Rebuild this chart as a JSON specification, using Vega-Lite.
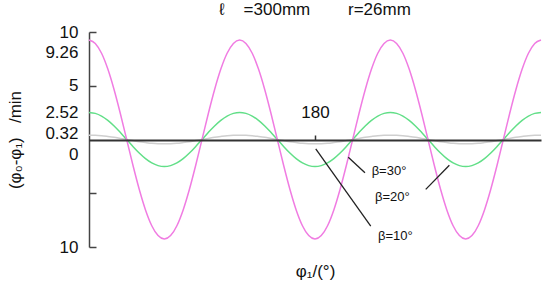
{
  "$schema": "https://vega.github.io/schema/vega-lite/v6.json",
  "width": 452,
  "height": 215,
  "autosize": {"type": "none"},
  "padding": {"left": 89, "top": 32, "right": 9, "bottom": 46},
  "background": "white",
  "config": {"view": {"stroke": null}, "font": "Liberation Sans", "axis": {"labelOverlap": false}},
  "title": {"text": "ℓ\u00a0\u00a0\u00a0 =300mm\u00a0\u00a0\u00a0\u00a0\u00a0\u00a0\u00a0 r=26mm", "fontSize": 17, "fontWeight": "normal", "color": "#111", "anchor": "middle", "offset": 4, "font": "Liberation Sans"},
  "datasets": {
    "curve": [
      {"phi": 0, "b30": 9.26, "b20": 2.52, "b10": 0.4},
      {"phi": 5, "b30": 8.94, "b20": 2.43, "b10": 0.39},
      {"phi": 10, "b30": 8.02, "b20": 2.18, "b10": 0.35},
      {"phi": 15, "b30": 6.55, "b20": 1.78, "b10": 0.28},
      {"phi": 20, "b30": 4.63, "b20": 1.26, "b10": 0.2},
      {"phi": 25, "b30": 2.4, "b20": 0.65, "b10": 0.1},
      {"phi": 30, "b30": 0, "b20": 0, "b10": 0},
      {"phi": 35, "b30": -2.4, "b20": -0.65, "b10": -0.1},
      {"phi": 40, "b30": -4.63, "b20": -1.26, "b10": -0.2},
      {"phi": 45, "b30": -6.55, "b20": -1.78, "b10": -0.28},
      {"phi": 50, "b30": -8.02, "b20": -2.18, "b10": -0.35},
      {"phi": 55, "b30": -8.94, "b20": -2.43, "b10": -0.39},
      {"phi": 60, "b30": -9.26, "b20": -2.52, "b10": -0.4},
      {"phi": 65, "b30": -8.94, "b20": -2.43, "b10": -0.39},
      {"phi": 70, "b30": -8.02, "b20": -2.18, "b10": -0.35},
      {"phi": 75, "b30": -6.55, "b20": -1.78, "b10": -0.28},
      {"phi": 80, "b30": -4.63, "b20": -1.26, "b10": -0.2},
      {"phi": 85, "b30": -2.4, "b20": -0.65, "b10": -0.1},
      {"phi": 90, "b30": 0, "b20": 0, "b10": 0},
      {"phi": 95, "b30": 2.4, "b20": 0.65, "b10": 0.1},
      {"phi": 100, "b30": 4.63, "b20": 1.26, "b10": 0.2},
      {"phi": 105, "b30": 6.55, "b20": 1.78, "b10": 0.28},
      {"phi": 110, "b30": 8.02, "b20": 2.18, "b10": 0.35},
      {"phi": 115, "b30": 8.94, "b20": 2.43, "b10": 0.39},
      {"phi": 120, "b30": 9.26, "b20": 2.52, "b10": 0.4},
      {"phi": 125, "b30": 8.94, "b20": 2.43, "b10": 0.39},
      {"phi": 130, "b30": 8.02, "b20": 2.18, "b10": 0.35},
      {"phi": 135, "b30": 6.55, "b20": 1.78, "b10": 0.28},
      {"phi": 140, "b30": 4.63, "b20": 1.26, "b10": 0.2},
      {"phi": 145, "b30": 2.4, "b20": 0.65, "b10": 0.1},
      {"phi": 150, "b30": 0, "b20": 0, "b10": 0},
      {"phi": 155, "b30": -2.4, "b20": -0.65, "b10": -0.1},
      {"phi": 160, "b30": -4.63, "b20": -1.26, "b10": -0.2},
      {"phi": 165, "b30": -6.55, "b20": -1.78, "b10": -0.28},
      {"phi": 170, "b30": -8.02, "b20": -2.18, "b10": -0.35},
      {"phi": 175, "b30": -8.94, "b20": -2.43, "b10": -0.39},
      {"phi": 180, "b30": -9.26, "b20": -2.52, "b10": -0.4},
      {"phi": 185, "b30": -8.94, "b20": -2.43, "b10": -0.39},
      {"phi": 190, "b30": -8.02, "b20": -2.18, "b10": -0.35},
      {"phi": 195, "b30": -6.55, "b20": -1.78, "b10": -0.28},
      {"phi": 200, "b30": -4.63, "b20": -1.26, "b10": -0.2},
      {"phi": 205, "b30": -2.4, "b20": -0.65, "b10": -0.1},
      {"phi": 210, "b30": 0, "b20": 0, "b10": 0},
      {"phi": 215, "b30": 2.4, "b20": 0.65, "b10": 0.1},
      {"phi": 220, "b30": 4.63, "b20": 1.26, "b10": 0.2},
      {"phi": 225, "b30": 6.55, "b20": 1.78, "b10": 0.28},
      {"phi": 230, "b30": 8.02, "b20": 2.18, "b10": 0.35},
      {"phi": 235, "b30": 8.94, "b20": 2.43, "b10": 0.39},
      {"phi": 240, "b30": 9.26, "b20": 2.52, "b10": 0.4},
      {"phi": 245, "b30": 8.94, "b20": 2.43, "b10": 0.39},
      {"phi": 250, "b30": 8.02, "b20": 2.18, "b10": 0.35},
      {"phi": 255, "b30": 6.55, "b20": 1.78, "b10": 0.28},
      {"phi": 260, "b30": 4.63, "b20": 1.26, "b10": 0.2},
      {"phi": 265, "b30": 2.4, "b20": 0.65, "b10": 0.1},
      {"phi": 270, "b30": 0, "b20": 0, "b10": 0},
      {"phi": 275, "b30": -2.4, "b20": -0.65, "b10": -0.1},
      {"phi": 280, "b30": -4.63, "b20": -1.26, "b10": -0.2},
      {"phi": 285, "b30": -6.55, "b20": -1.78, "b10": -0.28},
      {"phi": 290, "b30": -8.02, "b20": -2.18, "b10": -0.35},
      {"phi": 295, "b30": -8.94, "b20": -2.43, "b10": -0.39},
      {"phi": 300, "b30": -9.26, "b20": -2.52, "b10": -0.4},
      {"phi": 305, "b30": -8.94, "b20": -2.43, "b10": -0.39},
      {"phi": 310, "b30": -8.02, "b20": -2.18, "b10": -0.35},
      {"phi": 315, "b30": -6.55, "b20": -1.78, "b10": -0.28},
      {"phi": 320, "b30": -4.63, "b20": -1.26, "b10": -0.2},
      {"phi": 325, "b30": -2.4, "b20": -0.65, "b10": -0.1},
      {"phi": 330, "b30": 0, "b20": 0, "b10": 0},
      {"phi": 335, "b30": 2.4, "b20": 0.65, "b10": 0.1},
      {"phi": 340, "b30": 4.63, "b20": 1.26, "b10": 0.2},
      {"phi": 345, "b30": 6.55, "b20": 1.78, "b10": 0.28},
      {"phi": 350, "b30": 8.02, "b20": 2.18, "b10": 0.35},
      {"phi": 355, "b30": 8.94, "b20": 2.43, "b10": 0.39},
      {"phi": 360, "b30": 9.26, "b20": 2.52, "b10": 0.4}
    ],
    "leaders": [
      {"x1": 206.5, "y1": -1.66, "x2": 219.8, "y2": -3.09},
      {"x1": 268.2, "y1": -4.64, "x2": 287.0, "y2": -2.4},
      {"x1": 180.6, "y1": -0.88, "x2": 224.4, "y2": -8.05}
    ],
    "labels": [
      {"x": 225.1, "y": -2.9, "t": "β=30°"},
      {"x": 227.8, "y": -5.32, "t": "β=20°"},
      {"x": 230.2, "y": -8.98, "t": "β=10°"}
    ]
  },
  "resolve": {"axis": {"x": "independent", "y": "independent"}},
  "layer": [
    {
      "data": {"name": "curve"},
      "transform": [{"fold": ["b10", "b20", "b30"], "as": ["beta", "val"]}],
      "mark": {"type": "line", "interpolate": "monotone", "strokeWidth": 1.5},
      "encoding": {
        "x": {
          "field": "phi", "type": "quantitative",
          "scale": {"domain": [0, 360], "nice": false, "zero": false},
          "axis": {
            "orient": "top", "offset": -108, "values": [180], "grid": false,
            "title": null, "domainColor": "#333", "domainWidth": 2,
            "tickColor": "#333", "tickWidth": 1.5, "tickSize": 5,
            "labelFontSize": 17, "labelColor": "#111", "labelPadding": 14,
            "labelFont": "Liberation Sans", "zindex": 1
          }
        },
        "y": {
          "field": "val", "type": "quantitative",
          "scale": {"domain": [-10, 10], "nice": false, "zero": false},
          "axis": {
            "orient": "left",
            "values": [10, 5, 2.52, 0, -5, -10],
            "labelExpr": "datum.value == -5 ? '' : '' + abs(datum.value)",
            "labelOverlap": false,
            "labelFlush": false,
            "tickOpacity": {"condition": {"test": "datum.value == 10 || datum.value == 5 || datum.value == -5 || datum.value == -10", "value": 1}, "value": 0},
            "labelOffset": {"condition": {"test": "datum.value == 0", "value": 15}, "value": 0},
            "grid": false, "tickSize": -7, "labelPadding": 18,
            "domainColor": "#444", "domainWidth": 1.5, "tickColor": "#444", "tickWidth": 1.5,
            "labelFontSize": 17, "labelColor": "#111", "labelFont": "Liberation Sans",
            "title": "(φ₀-φ₁)\u00a0\u00a0 /min", "titleFontSize": 17, "titleFontWeight": "normal",
            "titleColor": "#111", "titleFont": "Liberation Sans", "titlePadding": 20
          }
        },
        "color": {
          "field": "beta", "type": "nominal",
          "scale": {"domain": ["b30", "b20", "b10"], "range": ["#f07ce2", "#62df88", "#cfcfcf"]},
          "legend": null
        }
      }
    },
    {
      "data": {"name": "leaders"},
      "mark": {"type": "rule", "color": "#222", "strokeWidth": 1.3},
      "encoding": {
        "x": {
          "field": "x1", "type": "quantitative",
          "axis": {
            "orient": "bottom", "domain": false, "ticks": false, "labels": false, "grid": false,
            "title": "φ₁/(°)", "titleFontSize": 17, "titleFontWeight": "normal",
            "titleColor": "#111", "titleFont": "Liberation Sans", "titlePadding": 16
          }
        },
        "x2": {"field": "x2"},
        "y": {"field": "y1", "type": "quantitative", "axis": null},
        "y2": {"field": "y2"}
      }
    },
    {
      "data": {"name": "labels"},
      "mark": {"type": "text", "align": "left", "baseline": "middle", "fontSize": 13, "color": "#111", "font": "Liberation Sans"},
      "encoding": {
        "x": {"field": "x", "type": "quantitative", "axis": null},
        "y": {
          "field": "y", "type": "quantitative",
          "axis": {
            "orient": "left",
            "values": [9.26, 0.32],
            "format": ".2f",
            "labelOverlap": false,
            "labelFlush": false,
            "domain": false, "grid": false,
            "tickOpacity": 0, "tickSize": -7, "labelPadding": 18,
            "labelOffset": {"condition": {"test": "datum.value == 9.26", "value": 13}, "value": -3},
            "labelFontSize": 17, "labelColor": "#111", "labelFont": "Liberation Sans",
            "title": null
          }
        },
        "text": {"field": "t"}
      }
    }
  ]
}
